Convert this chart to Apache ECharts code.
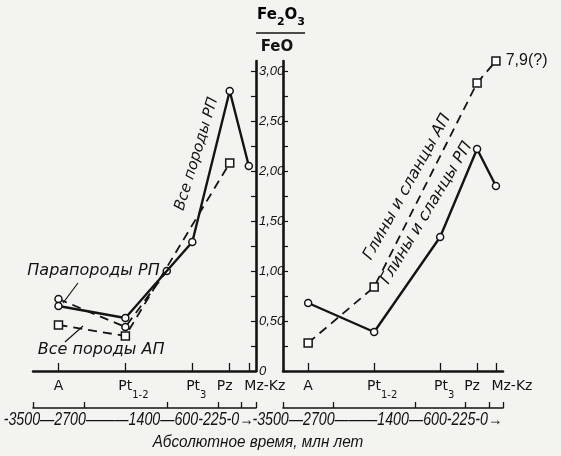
<!DOCTYPE html>
<html>
<head>
<meta charset="utf-8">
<script src="https://cdn.jsdelivr.net/npm/echarts@6/dist/echarts.min.js"></script>
<style>
html, body { margin: 0; padding: 0; background: #f3f3f0; }
#chart { width: 561px; height: 456px; }
</style>
</head>
<body>
<div id="chart"></div>
<script>
// эпохи и середины их интервалов, млн лет
var eras = ["A", "Pt1-2", "Pt3", "Pz", "Mz-Kz"];
var eraAge = [-3100, -2050, -1000, -412.5, -112.5];
var rulerTicks = [-3500, -2700, -1400, -600, -225, 0];
var yLabels = [0, 0.5, 1, 1.5, 2, 2.5, 3];
var yTicks = [0, 0.25, 0.5, 0.75, 1, 1.25, 1.5, 1.75, 2, 2.25, 2.5, 2.75, 3];

// левая часть: все породы
var allRP = [0.65, 0.53, 1.29, 2.80, 2.05];
var paraRP = [[-3100, 0.72], [-2050, 0.44], [-1400, 1.00]];
var allAP = [[-3100, 0.46], [-2050, 0.35], [-412.5, 2.08]];
// правая часть: глины и сланцы
var clayRP = [0.68, 0.39, 1.34, 2.22, 1.85];
var clayAP = [[-3100, 0.28], [-2050, 0.84], [-412.5, 2.88], [-112.5, 3.10]];
var clayAPnote = "7,9(?)";

var INK = "#141414";
var SANS = "'DejaVu Sans', sans-serif";
var ITAL = "'Liberation Sans', sans-serif";

var chart = echarts.init(document.getElementById("chart"));

// сдвиги подписей эпох (как набрано в оригинале)
var eraShift = [0, 8, 4, -5, 16];
var eraRich = { s: { fontFamily: SANS, fontSize: 10, color: INK, padding: [11, 0, 0, 0] } };
eras.forEach(function(e, i) {
    var sh = eraShift[i] * 2;
    eraRich["m" + i] = { fontFamily: SANS, fontSize: 14, color: INK, lineHeight: 16, verticalAlign: "top",
        padding: [0, sh < 0 ? -sh : 0, 0, sh > 0 ? sh : 0] };
});
function eraLabel(v) {
    var i = eraAge.indexOf(v); if (i < 0) return "";
    var p = eras[i].match(/^(Pt)(.+)$/);
    return p ? "{m" + i + "|" + p[1] + "}{s|" + p[2] + "}" : "{m" + i + "|" + eras[i] + "}";
}
// шкала абсолютного времени набрана одной строкой
var rulerText = "-3500—2700———1400—600-225-0→";

function eraAxis(grid, ticks) {
    // пустые крайние подписи, чтобы ECharts не прятал тесные Pz и Mz-Kz
    return { gridIndex: grid, type: "value", min: -3500, max: 0, position: "bottom",
        axisLine: { show: true, onZero: false, lineStyle: { color: INK, width: 2.5 } },
        axisTick: { show: true, inside: true, length: 8, customValues: ticks, lineStyle: { color: INK, width: 1.3 } },
        axisLabel: { customValues: [-3500].concat(eraAge, [0]), formatter: eraLabel, margin: 8, rich: eraRich,
            hideOverlap: false, showMinLabel: false, showMaxLabel: false },
        splitLine: { show: false } };
}
function rulerAxis(grid) {
    return { gridIndex: grid, type: "value", min: -3500, max: 0, position: "bottom", offset: 37,
        axisLine: { show: true, onZero: false, lineStyle: { color: INK, width: 1.6 } },
        axisTick: { show: true, inside: true, length: 6, customValues: rulerTicks, lineStyle: { color: INK, width: 1.3 } },
        axisLabel: { show: false }, splitLine: { show: false } };
}
function yAxis(grid, pos, labels) {
    return { gridIndex: grid, type: "value", min: 0, max: 3.1, position: pos,
        axisLine: { show: true, onZero: false, lineStyle: { color: INK, width: 2.6 } },
        axisTick: { show: true, inside: true, length: 5, customValues: yTicks, lineStyle: { color: INK, width: 1.2 } },
        axisLabel: labels ? { customValues: yLabels, margin: 3, fontFamily: ITAL, fontStyle: "italic", fontSize: 13, color: INK,
            hideOverlap: false,
            formatter: function(v) { return v === 0 ? "0" : v.toFixed(2).replace(".", ","); } } : { show: false },
        splitLine: { show: false } };
}

function pairs(vals) { return eraAge.map(function(a, i) { return [a, vals[i]]; }); }
function solid(name, x, data) {
    return { name: name, type: "line", xAxisIndex: x, yAxisIndex: x / 2, data: data,
        symbol: "circle", symbolSize: 7, lineStyle: { color: INK, width: 2.4 },
        itemStyle: { color: "#fff", borderColor: INK, borderWidth: 1.5 }, z: 3 };
}
function dashed(name, x, data, sym) {
    return { name: name, type: "line", xAxisIndex: x, yAxisIndex: x / 2, data: data,
        symbol: sym, symbolSize: sym === "rect" ? 8 : 7, lineStyle: { color: INK, width: 1.8, type: [9, 6] },
        itemStyle: { color: "#fff", borderColor: INK, borderWidth: 1.5 }, z: 2 };
}

var apRight = dashed("Глины и сланцы АП", 2, clayAP, "rect");
apRight.label = { show: true, position: "right", distance: 5, fontFamily: ITAL, fontSize: 16, color: INK,
    formatter: function(p) { return p.dataIndex === clayAP.length - 1 ? clayAPnote : ""; } };

chart.setOption({
    animation: false,
    backgroundColor: "#f3f3f0",
    grid: [
        { left: 33, top: 61, width: 223, height: 310, outerBoundsMode: "none", containLabel: false },
        { left: 283, top: 61, width: 220, height: 310, outerBoundsMode: "none", containLabel: false }
    ],
    xAxis: [eraAxis(0, [-3500].concat(eraAge)), rulerAxis(0), eraAxis(1, eraAge), rulerAxis(1)],
    yAxis: [yAxis(0, "right", true), yAxis(1, "left", false)],
    series: [
        solid("Все породы РП", 0, pairs(allRP)),
        dashed("Парапороды РП", 0, paraRP, "circle"),
        dashed("Все породы АП", 0, allAP, "rect"),
        solid("Глины и сланцы РП", 2, pairs(clayRP)),
        apRight
    ]
});

// подписи к линиям, привязанные к координатам данных
var notes = [
    { grid: 0, at: [-2550, 1.00], text: "Парапороды РП", rot: 0, size: 16 },
    { grid: 0, at: [-2430, 0.21], text: "Все породы АП", rot: 0, size: 16 },
    { grid: 0, at: [-930, 2.17], text: "Все породы РП", rot: 73, size: 15 },
    { grid: 1, at: [-1524, 1.84], text: "Глины и сланцы АП", rot: 61, size: 16 },
    { grid: 1, at: [-1215, 1.58], text: "Глины и сланцы РП", rot: 59, size: 16 }
];
var leaders = [
    { grid: 0, from: [-2794, 0.88], to: [-3029, 0.68] },
    { grid: 0, from: [-2715, 0.45], to: [-2998, 0.29] }
];
var g = [];
notes.forEach(function(n) {
    var p = chart.convertToPixel({ gridIndex: n.grid }, n.at);
    g.push({ type: "text", x: p[0], y: p[1], rotation: n.rot * Math.PI / 180, z: 10,
        style: { text: n.text, fill: INK, font: "italic " + n.size + "px " + SANS, align: "center", verticalAlign: "middle" } });
});
leaders.forEach(function(l) {
    var a = chart.convertToPixel({ gridIndex: l.grid }, l.from), b = chart.convertToPixel({ gridIndex: l.grid }, l.to);
    g.push({ type: "line", z: 10, shape: { x1: a[0], y1: a[1], x2: b[0], y2: b[1] }, style: { stroke: INK, lineWidth: 1.2 } });
});
// строки шкалы времени под обеими частями
[0, 1].forEach(function(gi) {
    var p = chart.convertToPixel({ gridIndex: gi }, [-2000, 0]);
    g.push({ type: "text", x: p[0], y: 420, scaleX: 0.79, z: 10,
        style: { text: rulerText, font: "italic 18px " + ITAL, fill: INK, align: "center", verticalAlign: "middle" } });
});
// заголовок оси Y в виде дроби
g.push({ type: "text", x: 281, y: 18, z: 10, style: { text: "{m|Fe}{s|2}{m|O}{s|3}", align: "center", verticalAlign: "middle",
    rich: { m: { fontFamily: SANS, fontSize: 15, fontWeight: "bold", color: INK, lineHeight: 17, verticalAlign: "top" },
            s: { fontFamily: SANS, fontSize: 11, fontWeight: "bold", color: INK, padding: [9, 0, 0, 0] } } } });
g.push({ type: "line", z: 10, shape: { x1: 256, y1: 33, x2: 305, y2: 33 }, style: { stroke: INK, lineWidth: 1.6 } });
g.push({ type: "text", x: 277, y: 47, z: 10, style: { text: "FeO", font: "bold 15px " + SANS, fill: INK, align: "center", verticalAlign: "middle" } });
g.push({ type: "text", x: 258, y: 442, scaleX: 0.9, z: 10, style: { text: "Абсолютное время, млн лет", font: "italic 17px " + ITAL, fill: INK, align: "center", verticalAlign: "middle" } });
chart.setOption({ graphic: g });
</script>
</body>
</html>
